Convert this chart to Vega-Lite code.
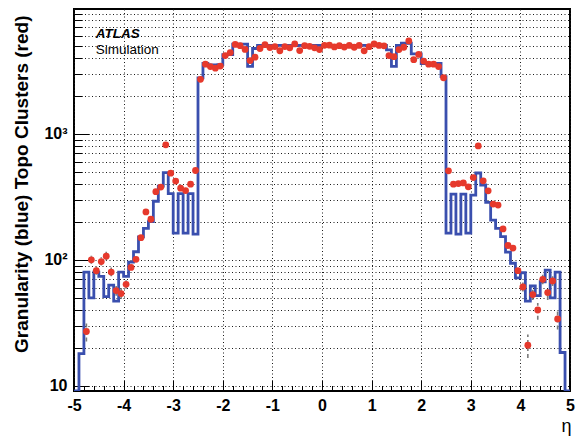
{
  "$schema": "https://vega.github.io/schema/vega-lite/v6.json",
  "width": 496,
  "height": 382,
  "autosize": {"type": "none"},
  "padding": {"left": 74, "top": 9, "right": 7, "bottom": 46},
  "background": "white",
  "config": {
    "view": {"stroke": "black", "strokeWidth": 2},
    "font": "Liberation Sans",
    "axis": {
      "domain": false,
      "labelFont": "Liberation Sans",
      "titleFont": "Liberation Sans",
      "labelColor": "black",
      "titleColor": "black",
      "tickColor": "black",
      "tickWidth": 1,
      "gridColor": "#1a1a1a",
      "gridDash": [1, 2.5],
      "gridWidth": 1,
      "gridOpacity": 1
    }
  },
  "datasets": {
    "granularity": [
      {"eta": -5.0, "n": 9.1}, {"eta": -4.9, "n": 18}, {"eta": -4.8, "n": 80}, {"eta": -4.7, "n": 50},
      {"eta": -4.6, "n": 80}, {"eta": -4.5, "n": 74}, {"eta": -4.4, "n": 51}, {"eta": -4.3, "n": 63},
      {"eta": -4.2, "n": 47}, {"eta": -4.1, "n": 80}, {"eta": -4.0, "n": 74}, {"eta": -3.9, "n": 96},
      {"eta": -3.8, "n": 116}, {"eta": -3.7, "n": 152}, {"eta": -3.6, "n": 178}, {"eta": -3.5, "n": 201},
      {"eta": -3.4, "n": 292}, {"eta": -3.3, "n": 385}, {"eta": -3.2, "n": 492}, {"eta": -3.1, "n": 335},
      {"eta": -3.0, "n": 163}, {"eta": -2.9, "n": 335}, {"eta": -2.8, "n": 163}, {"eta": -2.7, "n": 335},
      {"eta": -2.6, "n": 160}, {"eta": -2.5, "n": 2780}, {"eta": -2.4, "n": 3620}, {"eta": -2.3, "n": 3520},
      {"eta": -2.2, "n": 3520}, {"eta": -2.1, "n": 3550}, {"eta": -2.0, "n": 4260}, {"eta": -1.9, "n": 4260},
      {"eta": -1.8, "n": 5150}, {"eta": -1.7, "n": 5150}, {"eta": -1.6, "n": 5150}, {"eta": -1.5, "n": 3430},
      {"eta": -1.4, "n": 4760}, {"eta": -1.3, "n": 5040}, {"eta": -1.2, "n": 5030}, {"eta": -1.1, "n": 5040},
      {"eta": -1.0, "n": 5030}, {"eta": -0.9, "n": 5040}, {"eta": -0.8, "n": 5030}, {"eta": -0.7, "n": 5040},
      {"eta": -0.6, "n": 5030}, {"eta": -0.5, "n": 5040}, {"eta": -0.4, "n": 5030}, {"eta": -0.3, "n": 5040},
      {"eta": -0.2, "n": 5030}, {"eta": -0.1, "n": 5040}, {"eta": 0.0, "n": 5040}, {"eta": 0.1, "n": 5030},
      {"eta": 0.2, "n": 5040}, {"eta": 0.3, "n": 5030}, {"eta": 0.4, "n": 5040}, {"eta": 0.5, "n": 5030},
      {"eta": 0.6, "n": 5040}, {"eta": 0.7, "n": 5030}, {"eta": 0.8, "n": 5040}, {"eta": 0.9, "n": 5030},
      {"eta": 1.0, "n": 5040}, {"eta": 1.1, "n": 5030}, {"eta": 1.2, "n": 5040}, {"eta": 1.3, "n": 4650},
      {"eta": 1.4, "n": 3430}, {"eta": 1.5, "n": 5030}, {"eta": 1.6, "n": 5240}, {"eta": 1.7, "n": 5240},
      {"eta": 1.8, "n": 4320}, {"eta": 1.9, "n": 4320}, {"eta": 2.0, "n": 3620}, {"eta": 2.1, "n": 3620},
      {"eta": 2.2, "n": 3620}, {"eta": 2.3, "n": 3620}, {"eta": 2.4, "n": 2850}, {"eta": 2.5, "n": 163},
      {"eta": 2.6, "n": 332}, {"eta": 2.7, "n": 160}, {"eta": 2.8, "n": 332}, {"eta": 2.9, "n": 163},
      {"eta": 3.0, "n": 326}, {"eta": 3.1, "n": 489}, {"eta": 3.2, "n": 393}, {"eta": 3.3, "n": 286},
      {"eta": 3.4, "n": 207}, {"eta": 3.5, "n": 178}, {"eta": 3.6, "n": 153}, {"eta": 3.7, "n": 115},
      {"eta": 3.8, "n": 94}, {"eta": 3.9, "n": 72}, {"eta": 4.0, "n": 79}, {"eta": 4.1, "n": 47},
      {"eta": 4.2, "n": 62}, {"eta": 4.3, "n": 52}, {"eta": 4.4, "n": 67}, {"eta": 4.5, "n": 83},
      {"eta": 4.6, "n": 50}, {"eta": 4.7, "n": 80}, {"eta": 4.8, "n": 18.4}, {"eta": 4.9, "n": 9.1},
      {"eta": 5.0, "n": 9.1}
    ],
    "clusters": [
      {"eta": -4.75, "n": 27, "lo": 22.5, "hi": 32.5},
      {"eta": -4.65, "n": 100, "lo": 93, "hi": 108},
      {"eta": -4.55, "n": 82, "lo": 76, "hi": 88},
      {"eta": -4.45, "n": 97, "lo": 90, "hi": 105},
      {"eta": -4.35, "n": 107, "lo": 99, "hi": 116},
      {"eta": -4.25, "n": 80, "lo": 74, "hi": 87},
      {"eta": -4.15, "n": 57, "lo": 52, "hi": 62},
      {"eta": -4.05, "n": 54, "lo": 49, "hi": 60},
      {"eta": -3.95, "n": 64, "lo": 59, "hi": 69},
      {"eta": -3.85, "n": 87}, {"eta": -3.75, "n": 101}, {"eta": -3.65, "n": 150},
      {"eta": -3.55, "n": 240}, {"eta": -3.45, "n": 210}, {"eta": -3.35, "n": 348},
      {"eta": -3.25, "n": 378}, {"eta": -3.15, "n": 818}, {"eta": -3.05, "n": 488},
      {"eta": -2.95, "n": 422}, {"eta": -2.85, "n": 371}, {"eta": -2.75, "n": 355},
      {"eta": -2.65, "n": 399}, {"eta": -2.55, "n": 512}, {"eta": -2.45, "n": 2710},
      {"eta": -2.35, "n": 3575}, {"eta": -2.25, "n": 3420}, {"eta": -2.15, "n": 3320},
      {"eta": -2.05, "n": 3450}, {"eta": -1.95, "n": 4180}, {"eta": -1.85, "n": 4420},
      {"eta": -1.75, "n": 5130}, {"eta": -1.65, "n": 5010}, {"eta": -1.55, "n": 4680},
      {"eta": -1.45, "n": 3820}, {"eta": -1.35, "n": 4060}, {"eta": -1.25, "n": 4760},
      {"eta": -1.15, "n": 5110}, {"eta": -1.05, "n": 4840}, {"eta": -0.95, "n": 4930},
      {"eta": -0.85, "n": 4570}, {"eta": -0.75, "n": 4930}, {"eta": -0.65, "n": 4820},
      {"eta": -0.55, "n": 5180}, {"eta": -0.45, "n": 4580}, {"eta": -0.35, "n": 5010},
      {"eta": -0.25, "n": 4950}, {"eta": -0.15, "n": 4820}, {"eta": -0.05, "n": 4670},
      {"eta": 0.05, "n": 5050}, {"eta": 0.15, "n": 5060}, {"eta": 0.25, "n": 4900},
      {"eta": 0.35, "n": 5010}, {"eta": 0.45, "n": 4890}, {"eta": 0.55, "n": 5040},
      {"eta": 0.65, "n": 4870}, {"eta": 0.75, "n": 5040}, {"eta": 0.85, "n": 4560},
      {"eta": 0.95, "n": 4920}, {"eta": 1.05, "n": 5170}, {"eta": 1.15, "n": 5040},
      {"eta": 1.25, "n": 5000}, {"eta": 1.35, "n": 4180}, {"eta": 1.45, "n": 4100},
      {"eta": 1.55, "n": 4670}, {"eta": 1.65, "n": 4870}, {"eta": 1.75, "n": 5470},
      {"eta": 1.85, "n": 3880}, {"eta": 1.95, "n": 4270}, {"eta": 2.05, "n": 3780},
      {"eta": 2.15, "n": 3575}, {"eta": 2.25, "n": 3575}, {"eta": 2.35, "n": 3420},
      {"eta": 2.45, "n": 2790}, {"eta": 2.55, "n": 509}, {"eta": 2.65, "n": 399},
      {"eta": 2.75, "n": 403}, {"eta": 2.85, "n": 408}, {"eta": 2.95, "n": 380},
      {"eta": 3.05, "n": 450}, {"eta": 3.15, "n": 803}, {"eta": 3.25, "n": 424},
      {"eta": 3.35, "n": 353}, {"eta": 3.45, "n": 277}, {"eta": 3.55, "n": 272},
      {"eta": 3.65, "n": 176}, {"eta": 3.75, "n": 130}, {"eta": 3.85, "n": 124},
      {"eta": 3.95, "n": 82},
      {"eta": 4.05, "n": 61, "lo": 56, "hi": 66},
      {"eta": 4.15, "n": 21, "lo": 16.6, "hi": 25.5},
      {"eta": 4.25, "n": 53, "lo": 48, "hi": 58},
      {"eta": 4.35, "n": 40, "lo": 33.5, "hi": 45.5},
      {"eta": 4.45, "n": 70, "lo": 64, "hi": 76},
      {"eta": 4.55, "n": 55, "lo": 48, "hi": 62},
      {"eta": 4.65, "n": 68, "lo": 62, "hi": 74},
      {"eta": 4.75, "n": 34, "lo": 28, "hi": 39.5}
    ],
    "labels": [
      {"label": "ATLAS"}
    ],
    "sublabels": [
      {"label": "Simulation"}
    ]
  },
  "resolve": {"axis": {"x": "independent", "y": "independent"}},
  "layer": [
    {
      "data": {"name": "granularity"},
      "mark": {"type": "line", "interpolate": "step-after", "color": "#3a4fae", "strokeWidth": 2.8, "clip": true},
      "encoding": {
        "x": {
          "field": "eta", "type": "quantitative",
          "scale": {"domain": [-5, 5], "nice": false, "zero": false},
          "axis": {
            "orient": "bottom",
            "values": [-5, -4, -3, -2, -1, 0, 1, 2, 3, 4, 5],
            "labelExpr": "toString(datum.value)",
            "labelFontSize": 16, "labelFontWeight": "bold",
            "labelPadding": 17, "tickSize": -11,
            "grid": true, "labelOverlap": false, "labelFlush": false,
            "title": "η", "titleFontSize": 18, "titleFontWeight": "normal",
            "titleAlign": "right", "titleBaseline": "alphabetic",
            "titleX": 497, "titleY": 40
          }
        },
        "y": {
          "field": "n", "type": "quantitative",
          "scale": {"type": "log", "domain": [9.1, 9800], "nice": false},
          "axis": {
            "orient": "left",
            "values": [10, 20, 30, 40, 50, 60, 70, 80, 90, 100, 200, 300, 400, 500, 600, 700, 800, 900, 1000, 2000, 3000, 4000, 5000, 6000, 7000, 8000, 9000],
            "labelExpr": "datum.value == 10 ? '10' : datum.value == 100 ? '10²' : datum.value == 1000 ? '10³' : ''",
            "labelFontSize": 16, "labelFontWeight": "bold", "labelPadding": 7,
            "ticks": false, "grid": true, "labelOverlap": false, "labelFlush": false,
            "title": "Granularity (blue) Topo Clusters (red)",
            "titleFontSize": 19, "titleFontWeight": "bold",
            "titleAngle": -90, "titleAlign": "right", "titleBaseline": "alphabetic",
            "titleX": -47, "titleY": 6
          }
        }
      }
    },
    {
      "data": {"name": "clusters"},
      "transform": [{"filter": "isValid(datum.lo)"}],
      "mark": {"type": "rule", "color": "#7a7a7a", "strokeWidth": 1.6, "strokeDash": [4, 3]},
      "encoding": {
        "x": {"field": "eta", "type": "quantitative", "axis": null},
        "y": {
          "field": "lo", "type": "quantitative",
          "axis": {
            "orient": "left",
            "values": [20, 30, 40, 50, 60, 70, 80, 90, 200, 300, 400, 500, 600, 700, 800, 900, 2000, 3000, 4000, 5000, 6000, 7000, 8000, 9000],
            "labels": false, "grid": false, "ticks": true, "tickSize": -8, "title": null
          }
        },
        "y2": {"field": "hi"}
      }
    },
    {
      "data": {"name": "clusters"},
      "mark": {"type": "circle", "color": "#e6392c", "opacity": 1, "size": 46},
      "encoding": {
        "x": {
          "field": "eta", "type": "quantitative",
          "axis": {
            "orient": "bottom",
            "values": [-4.8, -4.6, -4.4, -4.2, -3.8, -3.6, -3.4, -3.2, -2.8, -2.6, -2.4, -2.2, -1.8, -1.6, -1.4, -1.2, -0.8, -0.6, -0.4, -0.2, 0.2, 0.4, 0.6, 0.8, 1.2, 1.4, 1.6, 1.8, 2.2, 2.4, 2.6, 2.8, 3.2, 3.4, 3.6, 3.8, 4.2, 4.4, 4.6, 4.8],
            "labels": false, "grid": false, "ticks": true, "tickSize": -5.5, "title": null
          }
        },
        "y": {
          "field": "n", "type": "quantitative",
          "axis": {
            "orient": "left",
            "values": [10, 100, 1000],
            "labels": false, "grid": false, "ticks": true, "tickSize": -15, "title": null
          }
        }
      }
    },
    {
      "data": {"name": "labels"},
      "mark": {"type": "text", "font": "Liberation Sans", "fontSize": 13.5, "fontWeight": "bold", "fontStyle": "italic", "align": "left", "baseline": "alphabetic", "color": "black"},
      "encoding": {
        "x": {"datum": -4.56, "type": "quantitative", "axis": null},
        "y": {"datum": 5770, "type": "quantitative", "axis": null},
        "text": {"field": "label"}
      }
    },
    {
      "data": {"name": "sublabels"},
      "mark": {"type": "text", "font": "Liberation Sans", "fontSize": 13.5, "align": "left", "baseline": "alphabetic", "color": "black"},
      "encoding": {
        "x": {"datum": -4.56, "type": "quantitative", "axis": null},
        "y": {"datum": 4270, "type": "quantitative", "axis": null},
        "text": {"field": "label"}
      }
    }
  ]
}
